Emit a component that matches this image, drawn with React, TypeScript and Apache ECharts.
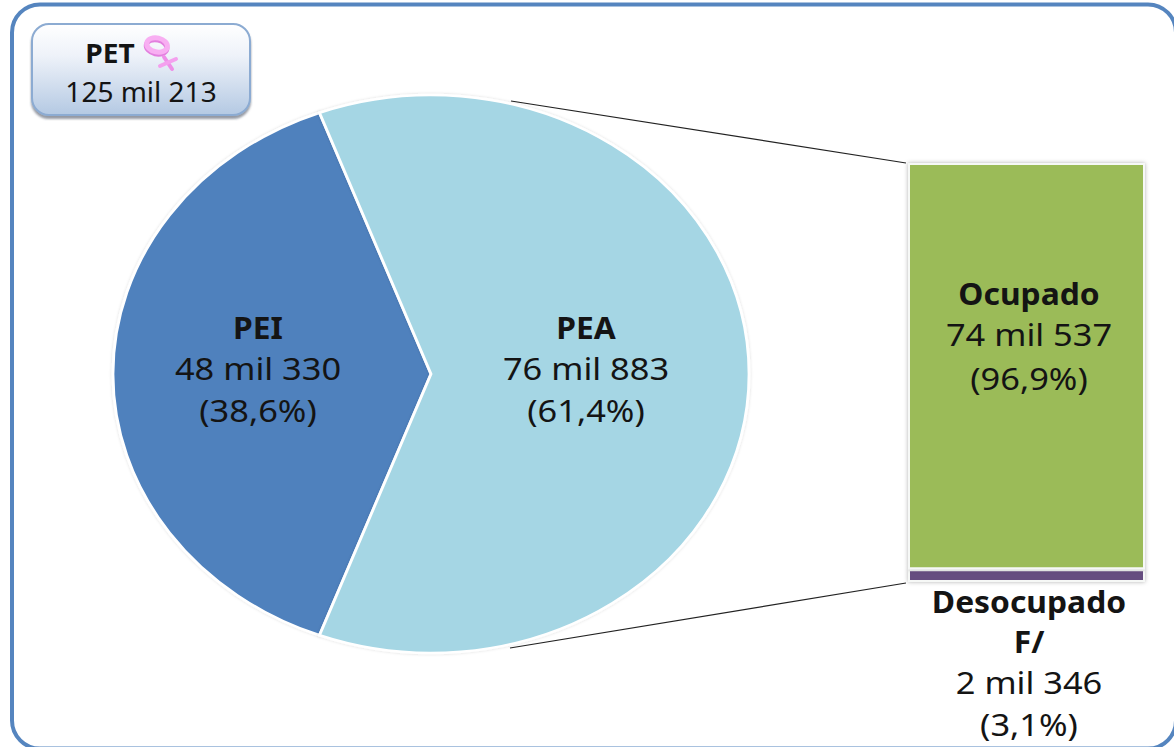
import React, { useEffect, useRef } from "react";
import * as echarts from "echarts";

const pieNames = ["PEI", "PEA"];
const pieValues = [48330, 76883];
const pieAmounts = ["48 mil 330", "76 mil 883"];
const piePercents = ["(38,6%)", "(61,4%)"];
const pieColors = ["#4f81bd", "#a5d6e4"];

const barNames = ["Desocupado", "Ocupado"];
const barValues = [2346, 74537];
const barColors = ["#664d80", "#9bbb59"];

const petTitle = "PET";
const petAmount = "125 mil 213";
const occupiedLines = ["74 mil 537", "(96,9%)"];
const unemployedLines = ["F/", "2 mil 346", "(3,1%)"];

const FONT = "'Noto Sans', sans-serif";
const INK = "#141414";

function txt(x: number, y: number, text: string, bold: boolean, size = bold ? 30 : 31, scaleX = bold ? 1.06 : 1.11) {
  return {
    type: "text",
    x,
    y,
    scaleX,
    z: 20,
    silent: true,
    style: {
      text,
      fill: INK,
      font: `${bold ? "700" : "400"} ${size}px ${FONT}`,
      textAlign: "center",
      textVerticalAlign: "middle",
    },
  };
}

function stroke(type: string, shape: any, color: string, lineWidth: number, extra: any = {}) {
  return {
    type,
    z: 7,
    silent: true,
    shape,
    ...extra,
    style: { stroke: color, fill: "none", lineWidth, lineCap: "round" },
  };
}

export default function App() {
  const ref = useRef<HTMLDivElement>(null);
  useEffect(() => {
    const chart = echarts.init(ref.current!, null, { renderer: "svg" });
    const total = pieValues[0] + pieValues[1];
    const cx = 431;
    const cy = 374;
    const ry = 279;
    const rx = 318;
    const span0 = (pieValues[0] / total) * Math.PI * 2;
    const ringTilt = { rotation: -0.22, originX: 157, originY: 45 };
    chart.setOption({
      animation: false,
      backgroundColor: "#ffffff",
      grid: { left: 908, top: 163, width: 237, height: 419, containLabel: false },
      xAxis: { type: "category", show: false, data: ["PEA"] },
      yAxis: { type: "value", show: false, min: 0, max: total - pieValues[0] },
      graphic: [
        {
          type: "rect",
          z: 0,
          silent: true,
          shape: { x: 12, y: 4.5, width: 1164, height: 744, r: 28 },
          style: { fill: "#ffffff", stroke: "#5585bf", lineWidth: 4 },
        },
        {
          type: "line",
          z: 5,
          silent: true,
          shape: { x1: 511, y1: 101, x2: 906, y2: 163 },
          style: { stroke: "#222222", lineWidth: 1.2 },
        },
        {
          type: "line",
          z: 5,
          silent: true,
          shape: { x1: 510, y1: 648, x2: 906, y2: 583 },
          style: { stroke: "#222222", lineWidth: 1.2 },
        },
        {
          type: "rect",
          z: 6,
          silent: true,
          shape: { x: 32, y: 24, width: 218, height: 91, r: 17 },
          style: {
            fill: {
              type: "linear",
              x: 0,
              y: 0,
              x2: 0,
              y2: 1,
              colorStops: [
                { offset: 0, color: "#ffffff" },
                { offset: 0.35, color: "#eef2f9" },
                { offset: 1, color: "#b4c9e3" },
              ],
            },
            stroke: "#8cabd2",
            lineWidth: 2,
            shadowColor: "rgba(60,70,90,0.55)",
            shadowBlur: 2,
            shadowOffsetY: 3,
          },
        },
        stroke("ellipse", { cx: 157, cy: 47, rx: 10.5, ry: 7 }, "#e27fde", 5, ringTilt),
        stroke("ellipse", { cx: 157, cy: 45, rx: 10.5, ry: 7 }, "#f8aef2", 5, ringTilt),
        stroke("line", { x1: 164, y1: 57, x2: 172, y2: 69 }, "#ee8fe8", 4),
        stroke("line", { x1: 160, y1: 66, x2: 176, y2: 59 }, "#f4a0ee", 4),
        txt(110, 53, petTitle, true, 27, 1.04),
        txt(141, 91, petAmount, false, 28, 1.0),
        txt(258, 327, pieNames[0], true),
        txt(258, 368, pieAmounts[0], false),
        txt(258, 410, piePercents[0], false),
        txt(586, 327, pieNames[1], true),
        txt(586, 368, pieAmounts[1], false),
        txt(586, 410, piePercents[1], false),
        txt(1029, 293, barNames[1], true),
        txt(1029, 334, occupiedLines[0], false),
        txt(1029, 378, occupiedLines[1], false),
        txt(1029, 601, barNames[0], true),
        txt(1029, 641, unemployedLines[0], true),
        txt(1029, 682, unemployedLines[1], false),
        txt(1029, 724, unemployedLines[2], false),
      ],
      series: [
        {
          type: "custom",
          coordinateSystem: "none",
          silent: true,
          z: 3,
          data: pieValues.map((v) => [v]),
          renderItem: (params: any, api: any) => {
            const i = params.dataIndex;
            const span = (api.value(0) / total) * Math.PI * 2;
            const start = i === 0 ? Math.PI - span0 / 2 : Math.PI + span0 / 2;
            return {
              type: "sector",
              x: cx,
              y: cy,
              scaleX: rx / ry,
              shape: { cx: 0, cy: 0, r: ry, r0: 0, startAngle: start, endAngle: start + span, clockwise: true },
              style: {
                fill: pieColors[i],
                stroke: "#ffffff",
                lineWidth: 2.5,
                shadowColor: "rgba(0,0,0,0.14)",
                shadowBlur: 3,
              },
            };
          },
        },
        ...barNames.map((name, i) => ({
          type: "bar",
          name,
          stack: "pea",
          silent: true,
          barWidth: "100%",
          z: 4,
          data: [barValues[i]],
          itemStyle: {
            color: barColors[i],
            borderColor: "#f6f8f6",
            borderWidth: 2,
            shadowColor: "rgba(0,0,0,0.3)",
            shadowBlur: 4,
          },
        })),
      ],
    });
    return () => chart.dispose();
  }, []);
  return (
    <div
      ref={ref}
      style={{ position: "fixed", left: 0, top: 0, width: 1174, height: 747, background: "#fff" }}
    />
  );
}
